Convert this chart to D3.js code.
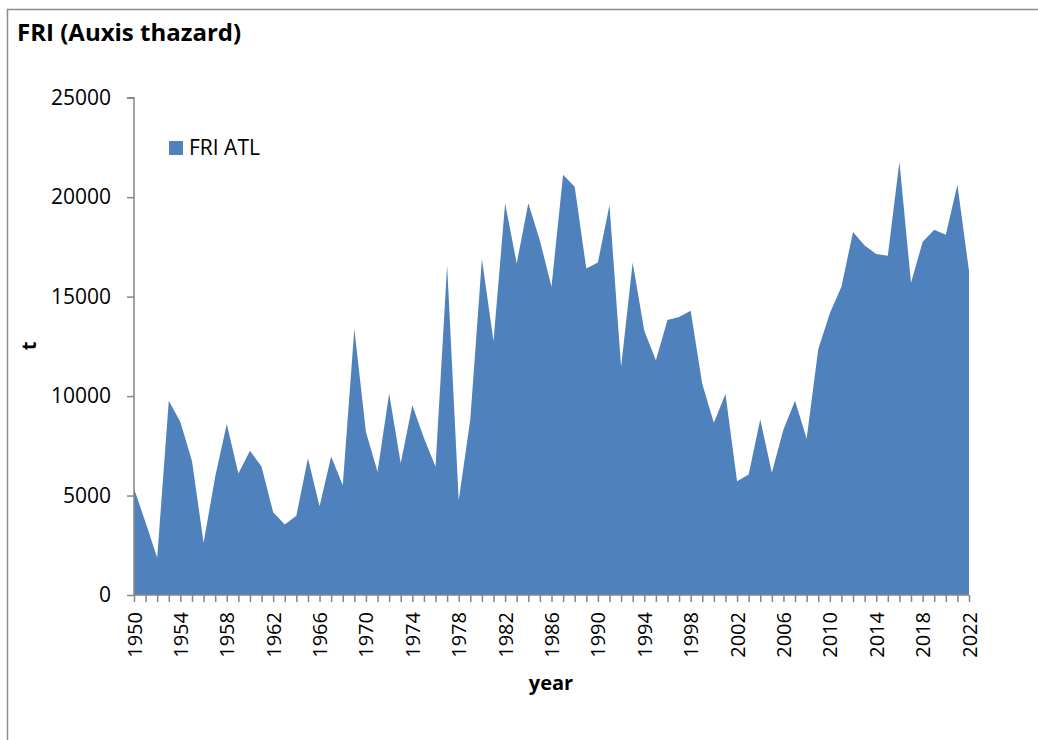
<!DOCTYPE html>
<html>
<head>
<meta charset="utf-8">
<script src="https://cdn.jsdelivr.net/npm/d3@7"></script>
<style>
  body { margin: 0; background: #fff; }
  svg text { font-family: "Open Sans", "Liberation Sans", sans-serif; fill: #000; }
</style>
</head>
<body>
<div id="chart-area"></div>
<script>
// catch of FRI ATL, t
const years = d3.range(1950, 2023)
const catches = [
  5350, 3650, 1870, 9760, 8700, 6740, 2630, 5940, 8600, 6110,
  7250, 6450, 4160, 3550, 3990, 6870, 4460, 6960, 5520, 13370,
  8200, 6200, 10130, 6620, 9540, 7890, 6450, 16580, 4750, 8830,
  16890, 12760, 19690, 16670, 19690, 17820, 15500, 21130, 20520, 16410,
  16720, 19600, 11460, 16720, 13290, 11800, 13830, 13970, 14290, 10610,
  8660, 10100, 5720, 6060, 8830, 6140, 8320, 9760, 7860, 12360,
  14170, 15500, 18250, 17570, 17140, 17060, 21780, 15700, 17740, 18360,
  18110, 20620, 16290
]
const yTicks = [0, 5000, 10000, 15000, 20000, 25000]
const xLabelYears = d3.range(1950, 2023, 4)
const seriesName = "FRI ATL"
const chartTitle = "FRI (Auxis thazard)"

const data = years.map((y, i) => ({ year: y, value: catches[i] }))

const WIDTH = 1038
const HEIGHT = 740
const AXIS = "#868686"

const svg = d3.select("#chart-area").append("svg")
  .attr("width", WIDTH)
  .attr("height", HEIGHT)

// chart frame (only top and left edges show)
svg.append("path")
  .attr("d", "M7.5,740 L7.5,9.5 L1038,9.5")
  .attr("fill", "none")
  .attr("stroke", "#8c8c8c")
  .attr("stroke-width", 1.5)

svg.append("text")
  .attr("x", 17)
  .attr("y", 41)
  .attr("font-size", "24px")
  .attr("font-weight", "bold")
  .text(chartTitle)

const x = d3.scaleLinear()
  .domain([1950, 2022])
  .range([134, 969])

const y = d3.scaleLinear()
  .domain([0, 25000])
  .range([595, 97.7])

const area = d3.area()
  .x(d => x(d.year))
  .y0(y(0))
  .y1(d => y(d.value))

svg.append("path")
  .datum(data)
  .attr("fill", "#4f81bd")
  .attr("d", area)

// y axis
const yAxis = svg.append("g")
  .attr("transform", `translate(${x(1950)}, 0)`)
  .call(d3.axisLeft(y).tickValues(yTicks).tickSize(7).tickPadding(16).tickFormat(d3.format("d")))
yAxis.selectAll("line, path").attr("stroke", AXIS).attr("stroke-width", 1.5)
yAxis.select(".domain").attr("d", `M-7,${y(25000)}H0V${y(0)}`)
yAxis.selectAll("text")
  .attr("font-size", "21px")
  .attr("font-family", "'Open Sans', sans-serif")
  .attr("fill", "#000")

// x axis, a tick for every year, a label every fourth
const xAxis = svg.append("g")
  .attr("transform", `translate(0, ${y(0)})`)
  .call(d3.axisBottom(x).tickValues(years).tickSize(7).tickFormat(""))
xAxis.selectAll("line, path").attr("stroke", AXIS).attr("stroke-width", 1.5)
xAxis.select(".domain").attr("d", `M${x(1950)},0H${x(2022)}`)

svg.append("g")
  .selectAll("text")
  .data(xLabelYears)
  .join("text")
  .attr("transform", d => `translate(${x(d) + 7.5}, 612) rotate(-90)`)
  .attr("text-anchor", "end")
  .attr("font-size", "20px")
  .text(d => d)

// axis titles
svg.append("text")
  .attr("x", 551)
  .attr("y", 690)
  .attr("text-anchor", "middle")
  .attr("font-size", "20px")
  .attr("font-weight", "bold")
  .text("year")

svg.append("text")
  .attr("transform", "translate(36, 346) rotate(-90)")
  .attr("text-anchor", "middle")
  .attr("font-size", "20px")
  .attr("font-weight", "bold")
  .text("t")

// legend
const legend = svg.append("g").attr("transform", "translate(169, 141)")
legend.append("rect")
  .attr("width", 14)
  .attr("height", 14)
  .attr("fill", "#4f81bd")
legend.append("text")
  .attr("x", 20)
  .attr("y", 14)
  .attr("font-size", "21px")
  .text(seriesName)
</script>
</body>
</html>
